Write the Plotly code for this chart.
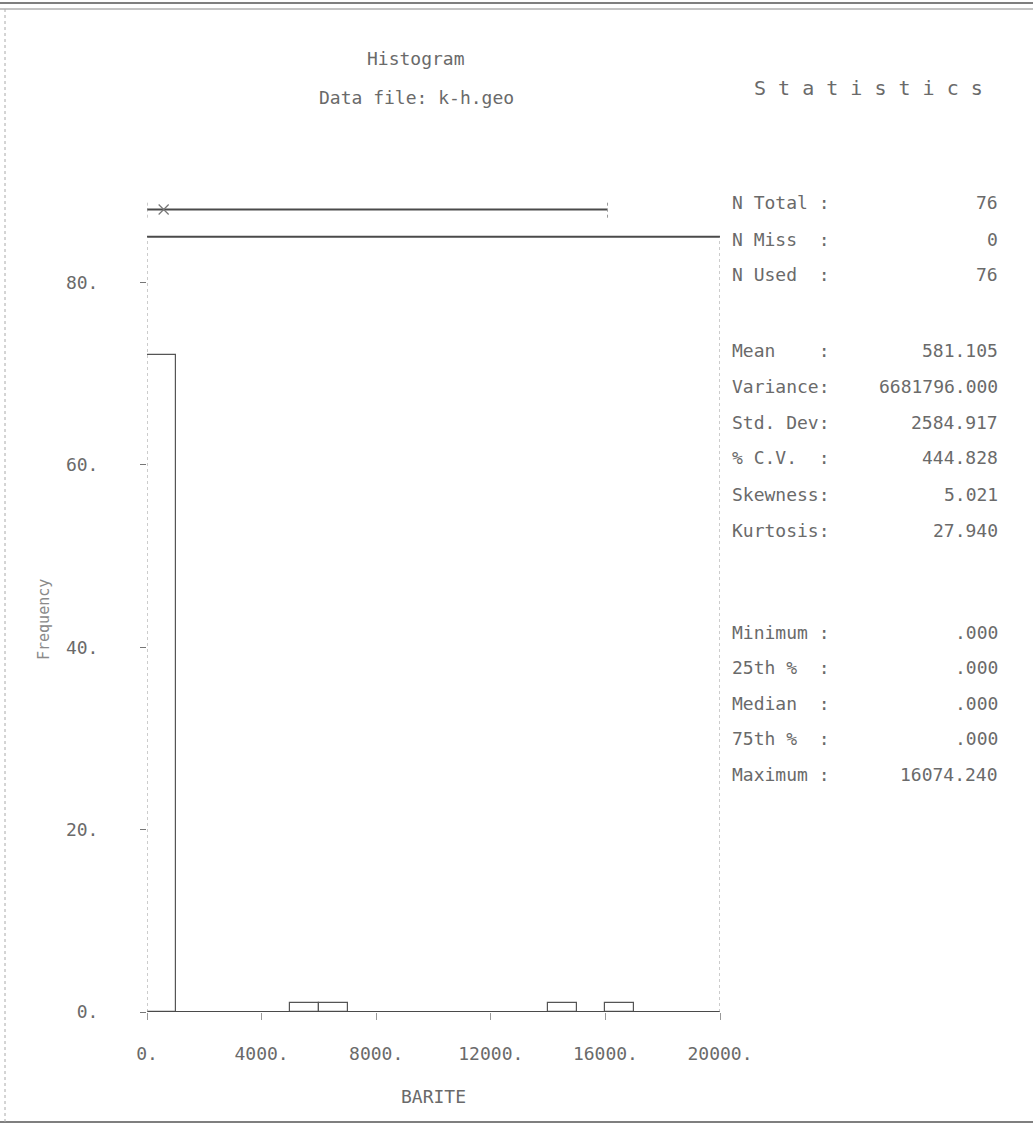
import plotly.graph_objects as go

# Histogram of BARITE (bin width 1000)
bin_left = [0, 5000, 6000, 14000, 16000]
bin_count = [72, 1, 1, 1, 1]
bin_width = 1000

# Summary statistics
stat_labels = ["N Total :", "N Miss  :", "N Used  :",
               "Mean    :", "Variance:", "Std. Dev:", "% C.V.  :", "Skewness:", "Kurtosis:",
               "Minimum :", "25th %  :", "Median  :", "75th %  :", "Maximum :"]
stat_values = ["76", "0", "76",
               "581.105", "6681796.000", "2584.917", "444.828", "5.021", "27.940",
               ".000", ".000", ".000", ".000", "16074.240"]
v_min, v_max, v_mean = 0.0, 16074.240, 581.105

x_ticks = [0, 4000, 8000, 12000, 16000, 20000]
y_ticks = [0, 20, 40, 60, 80]

W, H = 1033, 1130
L, R, T, B = 147, 313, 173, 118
FONT = "DejaVu Sans Mono"
INK = "#4a4a4a"
TXT = "#6a6a6a"


def px(x):
    return (x - L) / (W - L - R)


def py(y):
    return (H - B - y) / (H - T - B)


fig = go.Figure()

fig.add_trace(go.Bar(
    x=[b + bin_width / 2 for b in bin_left], y=bin_count, width=bin_width,
    marker=dict(color="white", line=dict(color="#555555", width=1.2)),
    showlegend=False, hoverinfo="skip",
))

# range line of the data above the frame, with the mean marked
box_y = 88
fig.add_trace(go.Scatter(x=[v_min, v_max], y=[box_y, box_y], mode="lines",
                         line=dict(color=INK, width=2), showlegend=False, hoverinfo="skip"))
for v in (v_min, v_max):
    fig.add_trace(go.Scatter(x=[v, v], y=[box_y - 0.9, box_y + 0.9], mode="lines",
                             line=dict(color="#999999", width=1, dash="dot"),
                             showlegend=False, hoverinfo="skip"))
fig.add_trace(go.Scatter(x=[v_mean], y=[box_y], mode="markers",
                         marker=dict(symbol="x-thin", size=10, line=dict(color="#777777", width=1.2)),
                         showlegend=False, hoverinfo="skip"))

# plot frame
fig.add_shape(type="line", xref="x", yref="y", x0=0, x1=20000, y0=85, y1=85,
              line=dict(color=INK, width=2))
fig.add_shape(type="line", xref="x", yref="y", x0=0, x1=20000, y0=0, y1=0,
              line=dict(color=INK, width=2))
for xv in (0, 20000):
    fig.add_shape(type="line", xref="x", yref="y", x0=xv, x1=xv, y0=0, y1=85,
                  line=dict(color="#999999", width=1, dash="dot"))

# page border
fig.add_shape(type="line", xref="paper", yref="paper", x0=px(0), x1=px(W), y0=py(3), y1=py(3),
              line=dict(color="#555555", width=1.5))
fig.add_shape(type="line", xref="paper", yref="paper", x0=px(0), x1=px(W), y0=py(9), y1=py(9),
              line=dict(color="#888888", width=1))
fig.add_shape(type="line", xref="paper", yref="paper", x0=px(0), x1=px(W), y0=py(1122), y1=py(1122),
              line=dict(color="#555555", width=1.5))
fig.add_shape(type="line", xref="paper", yref="paper", x0=px(5), x1=px(5), y0=py(9), y1=py(1122),
              line=dict(color="#aaaaaa", width=1, dash="dot"))

ann = []
ann.append(dict(text="Histogram", x=px(416), y=py(58)))
ann.append(dict(text="Data file: k-h.geo", x=px(416), y=py(98)))
ann.append(dict(text="S t a t i s t i c s", x=px(868), y=py(88), size=20))
ann.append(dict(text="BARITE", x=px(433), y=py(1096)))

rows_y = [203, 239, 274, 351, 386, 422, 458, 494, 530, 632, 667, 703, 739, 774]
for lab, val, ry in zip(stat_labels, stat_values, rows_y):
    ann.append(dict(text=lab.replace(" ", "&nbsp;"), x=px(730), y=py(ry), xanchor="left"))
    ann.append(dict(text=val, x=px(1000), y=py(ry), xanchor="right"))

for a in ann:
    fig.add_annotation(text=a["text"], x=a["x"], y=a["y"], xref="paper", yref="paper",
                       xanchor=a.get("xanchor", "center"), yanchor="middle", showarrow=False,
                       font=dict(family=FONT, size=a.get("size", 18), color=TXT))

fig.add_annotation(text="Frequency", x=px(33), y=py(620), xref="paper", yref="paper",
                   textangle=-90, showarrow=False,
                   font=dict(family=FONT, size=15, color="#8a8a8a"))

fig.update_layout(
    width=W, height=H, margin=dict(l=L, r=R, t=T, b=B),
    paper_bgcolor="white", plot_bgcolor="white", bargap=0,
    xaxis=dict(range=[0, 20000], tickvals=x_ticks, ticktext=[f"{v}." for v in x_ticks],
               showgrid=False, zeroline=False, showline=False,
               ticks="outside", ticklen=7, tickcolor="#999999",
               ticklabelstandoff=18,
               tickfont=dict(family=FONT, size=18, color=TXT)),
    yaxis=dict(range=[0, 92], tickvals=y_ticks, ticktext=[f"{v}." for v in y_ticks],
               showgrid=False, zeroline=False, showline=False,
               ticks="outside", ticklen=6, tickcolor="#777777",
               ticklabelstandoff=38,
               tickfont=dict(family=FONT, size=18, color=TXT)),
)

fig.write_html("out.html")
